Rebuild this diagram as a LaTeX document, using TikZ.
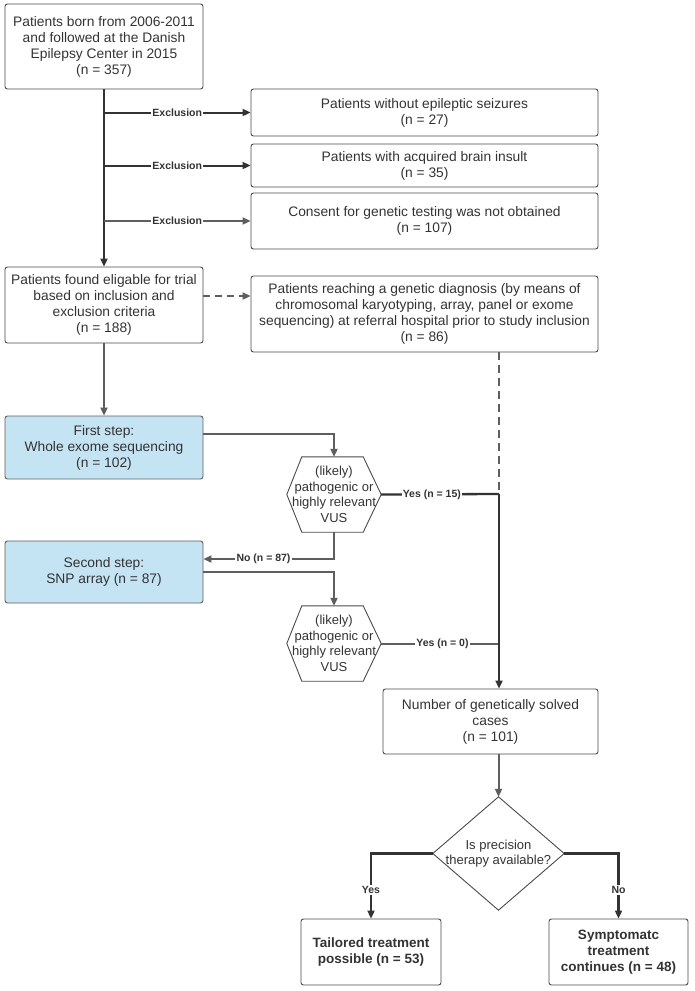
\documentclass[tikz,border=0pt]{standalone}
\usepackage{fontspec}
\setmainfont{Liberation Sans}
\usetikzlibrary{arrows.meta}
\definecolor{dk}{HTML}{333333}
\definecolor{gr}{HTML}{5E5E5E}
\definecolor{bx}{HTML}{4A4A4A}
\definecolor{lb}{RGB}{196,228,244}
\tikzset{
  box/.style={draw=bx, line width=0.9pt, rounded corners=2.5pt, align=center, text=dk,
    font=\fontsize{13.8}{16}\selectfont, inner sep=1pt},
  bbox/.style={box, font=\fontsize{13.5}{16}\selectfont\bfseries},
  bluebox/.style={box, fill=lb, draw=gr},
  txt/.style={align=center, text=dk, font=\fontsize{13}{15.5}\selectfont, inner sep=0pt},
  lbl/.style={fill=white, text=dk, font=\fontsize{10.5}{12}\selectfont\bfseries, inner sep=1.2pt},
  darkline/.style={draw=dk, line width=2.3pt},
  grayline/.style={draw=gr, line width=2pt},
  arr/.style={-{Triangle[length=8pt,width=7pt]}},
  shapeline/.style={draw=bx, line width=0.9pt}
}
\begin{document}
\begin{tikzpicture}[x=1pt,y=-1pt]
\useasboundingbox (0,0) rectangle (694,991);
% nodes
\node[box, minimum width=198pt, minimum height=85pt] (b1) at (104,46.5)
  {Patients born from 2006-2011\\and followed at the Danish\\Epilepsy Center in 2015\\(n = 357)};
\node[box, minimum width=347pt, minimum height=47pt] (eA) at (424.5,112.5)
  {Patients without epileptic seizures\\(n = 27)};
\node[box, minimum width=347pt, minimum height=43pt] (eB) at (424.5,165.5)
  {Patients with acquired brain insult\\(n = 35)};
\node[box, minimum width=347pt, minimum height=56pt] (eC) at (424.5,221)
  {Consent for genetic testing was not obtained\\(n = 107)};
\node[box, minimum width=198pt, minimum height=76pt] (b2) at (104,305)
  {Patients found eligable for trial\\based on inclusion and\\exclusion criteria\\(n = 188)};
\node[box, minimum width=347pt, minimum height=76pt] (bD) at (424.5,314)
  {Patients reaching a genetic diagnosis (by means of\\chromosomal karyotyping, array, panel or exome\\sequencing) at referral hospital prior to study inclusion\\(n = 86)};
\node[bluebox, minimum width=198pt, minimum height=63pt] (b3) at (104,447.5)
  {First step:\\Whole exome sequencing\\(n = 102)};
\node[bluebox, minimum width=198pt, minimum height=62pt] (b4) at (104,572)
  {Second step:\\SNP array (n = 87)};
\node[txt, minimum width=94pt, minimum height=75pt] (h1) at (334,494.5)
  {(likely)\\pathogenic or\\highly relevant\\VUS};
\node[txt, minimum width=94pt, minimum height=75pt] (h2) at (334,643.5)
  {(likely)\\pathogenic or\\highly relevant\\VUS};
\coordinate (j1) at (499,494);
\node[box, minimum width=215pt, minimum height=65pt] (b5) at (490.5,721.5)
  {Number of genetically solved\\cases\\(n = 101)};
\node[txt, minimum width=131pt, minimum height=113pt] (dia) at (498.5,853.5)
  {Is precision\\therapy available?};
\node[bbox, minimum width=140pt, minimum height=66pt] (b6) at (371,952)
  {Tailored treatment\\possible (n = 53)};
\node[bbox, minimum width=139pt, minimum height=66pt] (b7) at (618.5,952)
  {Symptomatc\\treatment\\continues (n = 48)};
% hexagons and diamond outlines
\foreach \h in {h1,h2}{
  \draw[shapeline] (\h.west) -- ([xshift=15pt]\h.north west) -- ([xshift=-18pt]\h.north east)
    -- (\h.east) -- ([xshift=-18pt]\h.south east) -- ([xshift=15pt]\h.south west) -- cycle;
}
\draw[shapeline] (dia.north) -- (dia.east) -- (dia.south) -- (dia.west) -- cycle;
% connectors
\draw[darkline, arr] (b1.south) -- (b2.north);
\draw[darkline, line width=2pt, arr] (b1.south |- eA.west) -- (eA.west)
  node[lbl, pos=0.5] {Exclusion};
\draw[darkline, line width=2pt, arr] (b1.south |- eB.west) -- (eB.west)
  node[lbl, pos=0.5] {Exclusion};
\draw[grayline, arr] (b1.south |- eC.west) -- (eC.west)
  node[lbl, pos=0.5] {Exclusion};
\draw[grayline, dashed, dash pattern=on 7pt off 5pt, arr] ([yshift=9pt]b2.east) -- ([yshift=9pt]b2.east -| bD.west);
\draw[grayline, dashed, dash pattern=on 8pt off 5pt, line width=2.3pt] (bD.south -| j1) -- (j1);
\draw[grayline, arr] (b2.south) -- (b3.north);
\draw[grayline, arr] ([yshift=13.5pt]b3.east) -| (h1.north);
\draw[darkline] (h1.east) -- (j1) node[lbl, pos=0.43] {Yes (n = 15)};
\draw[grayline, arr] (h1.south) |- ([yshift=13pt]b4.east) node[lbl, pos=0.77] {No (n = 87)};
\draw[grayline, arr] (b4.east) -| (h2.north);
\draw[grayline] (h2.east) -- (h2.east -| j1) node[lbl, pos=0.52] {Yes (n = 0)};
\draw[darkline, arr] (j1) -- (j1 |- b5.north);
\draw[grayline, arr] (b5.south -| dia.north) -- (dia.north);
\draw[darkline, arr] (dia.west) -| (b6.north) node[lbl, pos=0.78] {Yes};
\draw[darkline, arr] (dia.east) -| (b7.north) node[lbl, pos=0.78] {No};
\end{tikzpicture}
\end{document}
